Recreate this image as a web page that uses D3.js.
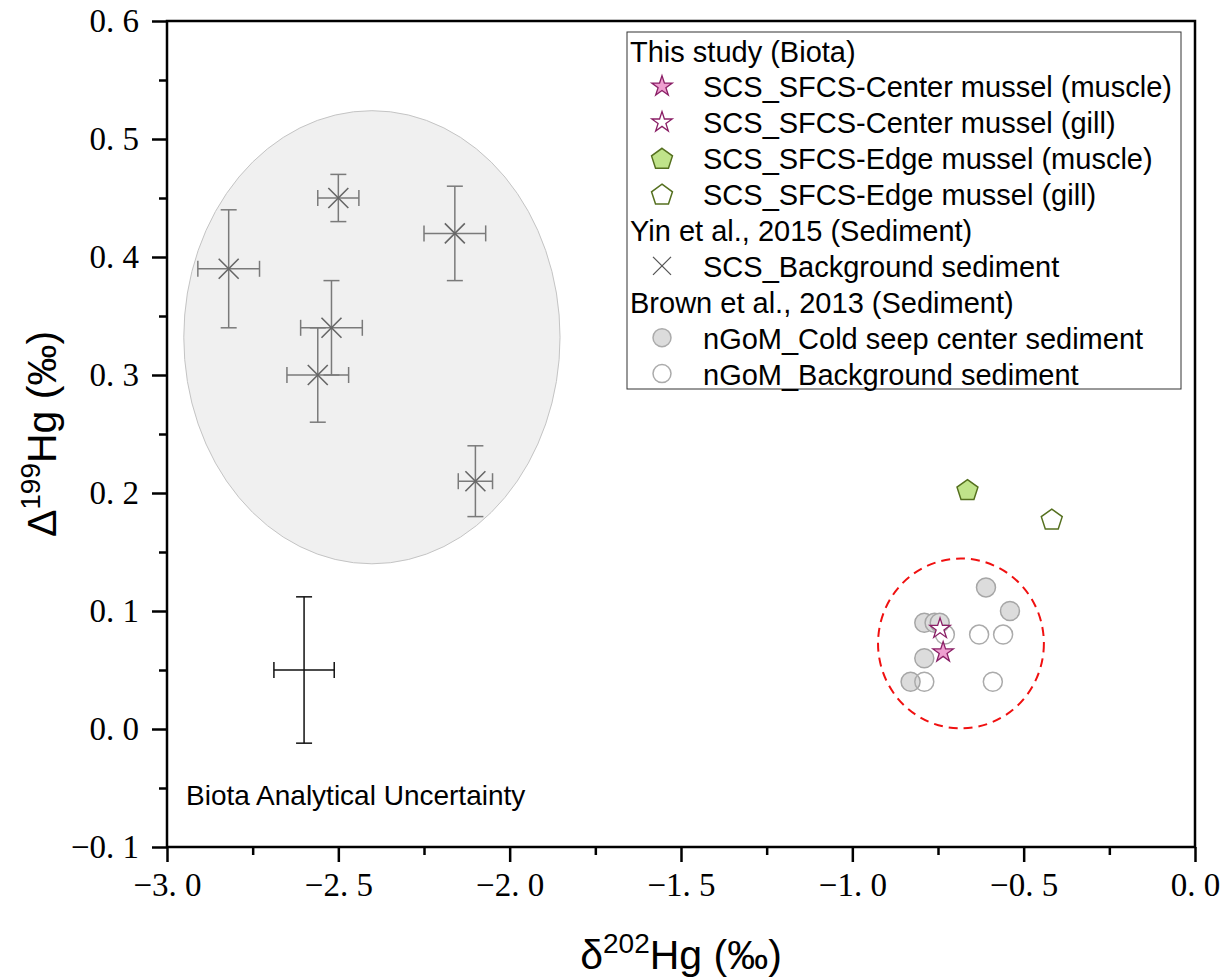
<!DOCTYPE html>
<html>
<head>
<meta charset="utf-8">
<script src="https://cdn.jsdelivr.net/npm/d3@7"></script>
<style>
  html, body { margin: 0; padding: 0; background: #fff; }
  svg text { font-family: "Liberation Sans", Arial, sans-serif; }
  .tick-label { font-family: "Liberation Serif", "DejaVu Serif", serif; font-size: 33px; }
</style>
</head>
<body>
<div id="chart"></div>
<script>
// SCS background sediment (Yin et al., 2015), with 2SD error bars
const sedX = [-2.82, -2.50, -2.16, -2.52, -2.56, -2.10];
const sedY = [0.39, 0.45, 0.42, 0.34, 0.30, 0.21];
const sedXErr = [0.09, 0.06, 0.09, 0.09, 0.09, 0.05];
const sedYErr = [0.05, 0.02, 0.04, 0.04, 0.04, 0.03];

// nGoM cold seep center sediment (Brown et al., 2013)
const seepX = [-0.61, -0.54, -0.79, -0.76, -0.745, -0.79, -0.83];
const seepY = [0.12, 0.10, 0.09, 0.09, 0.09, 0.06, 0.04];

// nGoM background sediment
const ngomBgX = [-0.73, -0.63, -0.56, -0.79, -0.59];
const ngomBgY = [0.08, 0.08, 0.08, 0.04, 0.04];

// this study: mussels
const centerMuscle = { x: -0.735, y: 0.065 };
const centerGill = { x: -0.744, y: 0.085 };
const edgeMuscle = { x: -0.664, y: 0.203 };
const edgeGill = { x: -0.418, y: 0.178 };

// biota analytical uncertainty
const uncert = { x: -2.6, y: 0.05, xErr: 0.088, yErr: 0.062 };

// shaded zones
const sedZone = { cx: -2.402, cy: 0.332, rx: 0.549, ry: 0.192 };
const seepZone = { cx: -0.683, cy: 0.0725, rx: 0.242, ry: 0.072 };

const xTicks = [-3.0, -2.5, -2.0, -1.5, -1.0, -0.5, 0.0];
const yTicks = [-0.1, 0.0, 0.1, 0.2, 0.3, 0.4, 0.5, 0.6];

const legendRows = [
  { label: 'This study (Biota)', header: true },
  { label: 'SCS_SFCS-Center mussel (muscle)', sym: 'starFill' },
  { label: 'SCS_SFCS-Center mussel (gill)', sym: 'starOpen' },
  { label: 'SCS_SFCS-Edge mussel (muscle)', sym: 'pentFill' },
  { label: 'SCS_SFCS-Edge mussel (gill)', sym: 'pentOpen' },
  { label: 'Yin et al., 2015 (Sediment)', header: true },
  { label: 'SCS_Background sediment', sym: 'cross' },
  { label: 'Brown et al., 2013 (Sediment)', header: true },
  { label: 'nGoM_Cold seep center sediment', sym: 'circFill' },
  { label: 'nGoM_Background sediment', sym: 'circOpen' },
];

const width = 1226, height = 977;
const margin = { top: 21, right: 31, bottom: 130, left: 167 };

const svg = d3.select('#chart').append('svg')
  .attr('width', width).attr('height', height);

const x = d3.scaleLinear().domain([-3, 0]).range([margin.left, width - margin.right]);
const y = d3.scaleLinear().domain([-0.1, 0.6]).range([height - margin.bottom, margin.top]);

const fmt = (v) => {
  const s = Math.abs(v).toFixed(1).replace('.', '. ');
  return (v < -1e-9 ? '\u2212' : '') + s;
};

// zones
svg.append('ellipse')
  .attr('cx', x(sedZone.cx)).attr('cy', y(sedZone.cy))
  .attr('rx', x(sedZone.cx + sedZone.rx) - x(sedZone.cx))
  .attr('ry', y(sedZone.cy) - y(sedZone.cy + sedZone.ry))
  .attr('fill', '#f0f0f0').attr('stroke', '#c4c4c4').attr('stroke-width', 1);

svg.append('ellipse')
  .attr('cx', x(seepZone.cx)).attr('cy', y(seepZone.cy))
  .attr('rx', x(seepZone.cx + seepZone.rx) - x(seepZone.cx))
  .attr('ry', y(seepZone.cy) - y(seepZone.cy + seepZone.ry))
  .attr('fill', 'none').attr('stroke', '#f01010').attr('stroke-width', 2)
  .attr('stroke-dasharray', '9,6');

// error bar helper
function errorCross(g, cx, cy, xe, ye, color, cap) {
  const px = x(cx), py = y(cy);
  const l = x(cx - xe), r = x(cx + xe), t = y(cy + ye), b = y(cy - ye);
  const seg = (x1, y1, x2, y2) => g.append('line')
    .attr('x1', x1).attr('y1', y1).attr('x2', x2).attr('y2', y2)
    .attr('stroke', color).attr('stroke-width', 1.5);
  seg(px, t, px, b);
  seg(l, py, r, py);
  seg(px - cap, t, px + cap, t);
  seg(px - cap, b, px + cap, b);
  seg(l, py - cap, l, py + cap);
  seg(r, py - cap, r, py + cap);
}

function drawX(g, px, py, s, color, sw) {
  g.append('path')
    .attr('d', `M${px - s},${py - s}L${px + s},${py + s}M${px - s},${py + s}L${px + s},${py - s}`)
    .attr('stroke', color).attr('stroke-width', sw).attr('fill', 'none');
}

function pentagonPath(r) {
  const pts = d3.range(5).map(i => {
    const a = -Math.PI / 2 + i * 2 * Math.PI / 5;
    return [r * Math.cos(a), r * Math.sin(a) + r * 0.1];
  });
  return 'M' + pts.map(p => p.join(',')).join('L') + 'Z';
}
const starPath = d3.symbol().type(d3.symbolStar).size(130)();

// sediment points
const sedG = svg.append('g');
sedX.forEach((v, i) => {
  errorCross(sedG, v, sedY[i], sedXErr[i], sedYErr[i], '#7a7a7a', 8);
});
sedX.forEach((v, i) => drawX(sedG, x(v), y(sedY[i]), 10, '#666', 1.6));

// analytical uncertainty
errorCross(svg.append('g'), uncert.x, uncert.y, uncert.xErr, uncert.yErr, '#111', 8);
svg.append('text').attr('x', 186).attr('y', 805)
  .attr('font-size', 28).text('Biota Analytical Uncertainty');

// nGoM points
svg.append('g').selectAll('circle').data(seepX).join('circle')
  .attr('cx', d => x(d)).attr('cy', (d, i) => y(seepY[i])).attr('r', 9.5)
  .attr('fill', '#dcdcdc').attr('stroke', '#a6a6a6').attr('stroke-width', 1.5);
svg.append('g').selectAll('circle').data(ngomBgX).join('circle')
  .attr('cx', d => x(d)).attr('cy', (d, i) => y(ngomBgY[i])).attr('r', 9.5)
  .attr('fill', 'none').attr('stroke', '#ababab').attr('stroke-width', 1.5);

// mussels
const pent = pentagonPath(11);
svg.append('path').attr('d', pent)
  .attr('transform', `translate(${x(edgeMuscle.x)},${y(edgeMuscle.y)})`)
  .attr('fill', '#c0e38a').attr('stroke', '#55701f').attr('stroke-width', 1.5);
svg.append('path').attr('d', pent)
  .attr('transform', `translate(${x(edgeGill.x)},${y(edgeGill.y)})`)
  .attr('fill', '#fff').attr('stroke', '#55701f').attr('stroke-width', 1.5);
svg.append('path').attr('d', starPath)
  .attr('transform', `translate(${x(centerGill.x)},${y(centerGill.y)})`)
  .attr('fill', '#fff').attr('stroke', '#8a1f66').attr('stroke-width', 1.3);
svg.append('path').attr('d', starPath)
  .attr('transform', `translate(${x(centerMuscle.x)},${y(centerMuscle.y)})`)
  .attr('fill', '#ee9fd0').attr('stroke', '#8a1f66').attr('stroke-width', 1.3);

// axes
const xAxis = svg.append('g').attr('transform', `translate(0,${y(-0.1)})`)
  .call(d3.axisBottom(x).tickValues(xTicks).tickFormat(fmt).tickSize(15).tickPadding(11));
const xMinor = svg.append('g').attr('transform', `translate(0,${y(-0.1)})`)
  .call(d3.axisBottom(x).tickValues(d3.range(-2.75, 0, 0.5)).tickFormat('').tickSize(8));
const yAxis = svg.append('g').attr('transform', `translate(${x(-3)},0)`)
  .call(d3.axisLeft(y).tickValues(yTicks).tickFormat(fmt).tickSize(15).tickPadding(13));
const yMinor = svg.append('g').attr('transform', `translate(${x(-3)},0)`)
  .call(d3.axisLeft(y).tickValues(d3.range(-0.05, 0.6, 0.1)).tickFormat('').tickSize(8));
[xAxis, yAxis, xMinor, yMinor].forEach(a => {
  a.selectAll('.domain').remove();
  a.selectAll('line').attr('stroke', '#000').attr('stroke-width', 2.5);
  a.selectAll('text').attr('class', 'tick-label').attr('fill', '#000');
});

// frame
svg.append('rect')
  .attr('x', x(-3)).attr('y', y(0.6))
  .attr('width', x(0) - x(-3)).attr('height', y(-0.1) - y(0.6))
  .attr('fill', 'none').attr('stroke', '#000').attr('stroke-width', 2.5);

// axis titles
const xt = svg.append('text').attr('x', (x(-3) + x(0)) / 2).attr('y', 969)
  .attr('text-anchor', 'middle').attr('font-size', 41);
xt.append('tspan').text('\u03b4');
xt.append('tspan').attr('font-size', 28).attr('dy', -16).text('202');
xt.append('tspan').attr('dy', 16).text('Hg (\u2030)');

const yt = svg.append('text')
  .attr('transform', `translate(56,${(y(-0.1) + y(0.6)) / 2}) rotate(-90)`)
  .attr('text-anchor', 'middle').attr('font-size', 41);
yt.append('tspan').text('\u0394');
yt.append('tspan').attr('font-size', 28).attr('dy', -16).text('199');
yt.append('tspan').attr('dy', 16).text('Hg (\u2030)');

// legend
const lg = svg.append('g');
lg.append('rect').attr('x', 627).attr('y', 32).attr('width', 554).attr('height', 357)
  .attr('fill', '#fff').attr('stroke', '#333').attr('stroke-width', 1);
const rowH = 35.9;
legendRows.forEach((r, i) => {
  const cy = 50.5 + i * rowH;
  lg.append('text').attr('x', r.header ? 630 : 703).attr('y', cy + 11)
    .attr('font-size', 29).text(r.label);
  const sx = 662;
  if (r.sym === 'starFill' || r.sym === 'starOpen') {
    lg.append('path').attr('d', starPath).attr('transform', `translate(${sx},${cy})`)
      .attr('fill', r.sym === 'starFill' ? '#ee9fd0' : '#fff')
      .attr('stroke', '#8a1f66').attr('stroke-width', 1.3);
  } else if (r.sym === 'pentFill' || r.sym === 'pentOpen') {
    lg.append('path').attr('d', pent).attr('transform', `translate(${sx},${cy})`)
      .attr('fill', r.sym === 'pentFill' ? '#c0e38a' : '#fff')
      .attr('stroke', '#55701f').attr('stroke-width', 1.5);
  } else if (r.sym === 'cross') {
    drawX(lg, sx, cy, 9, '#555', 1.3);
  } else if (r.sym === 'circFill' || r.sym === 'circOpen') {
    lg.append('circle').attr('cx', sx).attr('cy', cy).attr('r', 9)
      .attr('fill', r.sym === 'circFill' ? '#dcdcdc' : '#fff')
      .attr('stroke', '#ababab').attr('stroke-width', 1.5);
  }
});
</script>
</body>
</html>
